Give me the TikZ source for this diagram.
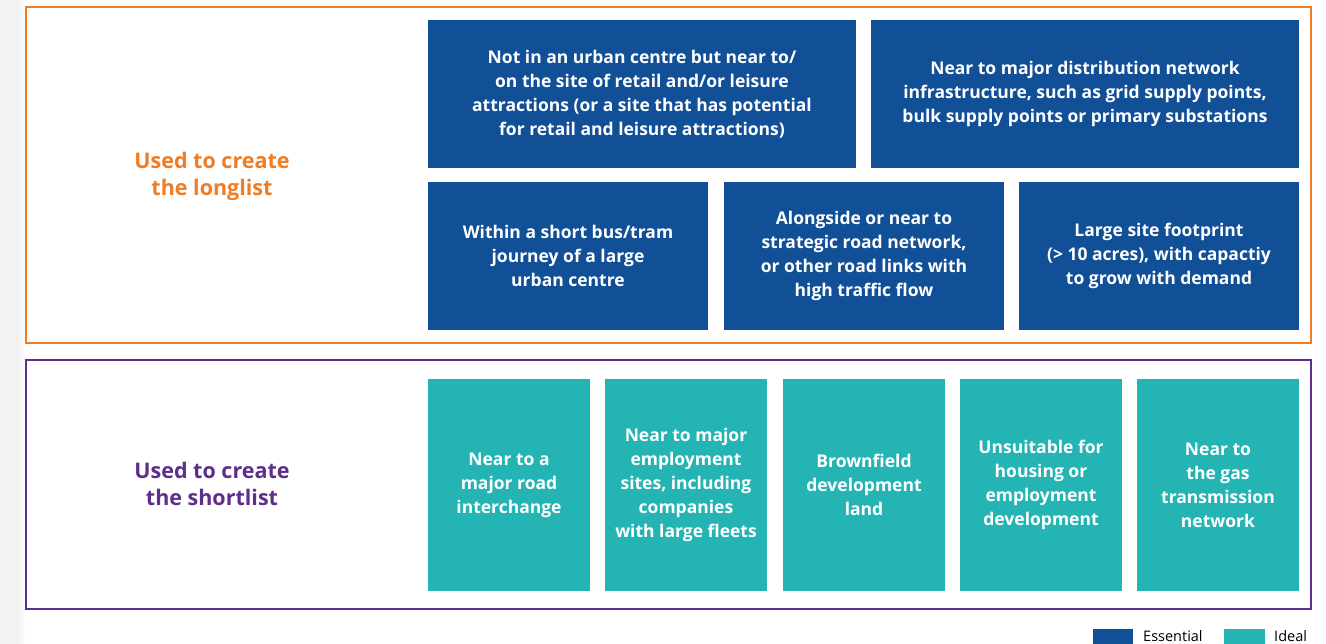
\documentclass[tikz,border=0pt]{standalone}
\usepackage{fontspec}
\setmainfont{Open Sans}
\definecolor{ess}{HTML}{114F97}
\definecolor{ide}{HTML}{25B4B4}
\definecolor{org}{HTML}{F07C23}
\definecolor{pur}{HTML}{5E2E8C}
\begin{document}
\begin{tikzpicture}[x=1pt,y=-1pt,
  boxbase/.style={rectangle, inner sep=0pt, align=center, text=white,
    font=\bfseries\fontsize{17.5}{24}\selectfont},
  essbox/.style={boxbase, fill=ess, minimum height=148pt},
  idebox/.style={boxbase, fill=ide, minimum height=212pt, minimum width=162pt},
  grouplabel/.style={align=center, font=\bfseries\fontsize{21.5}{27}\selectfont},
  frame/.style={line width=2.4pt},
  legtext/.style={anchor=west, inner sep=0pt, font=\fontsize{14.5}{16}\selectfont}]
\useasboundingbox (0,0) rectangle (1326,644);
\fill[white] (0,0) rectangle (1326,644);
\shade[left color=black!5, right color=black!5] (0,0) rectangle (18,644);
\shade[left color=black!5, right color=white] (18,0) rectangle (25,644);
% frames
\draw[frame, org] (26,7) rectangle (1311,343);
\draw[frame, pur] (26,360) rectangle (1311,609);
% labels
\node[grouplabel, text=org] (long) at (212,176) {Used to create\\the longlist};
\node[grouplabel, text=pur] (short) at (212,484) {Used to create\\the shortlist};
% essential boxes
\node[essbox, minimum width=428pt] (a) at (642,94) {Not in an urban centre but near to/\\on the site of retail and/or leisure\\attractions (or a site that has potential\\for retail and leisure attractions)};
\node[essbox, minimum width=428pt] (b) at (1085,94) {Near to major distribution network\\infrastructure, such as grid supply points,\\bulk supply points or primary substations};
\node[essbox, minimum width=280pt] (c) at (568,256) {Within a short bus/tram\\journey of a large\\urban centre};
\node[essbox, minimum width=280pt] (d) at (864,256) {Alongside or near to\\strategic road network,\\or other road links with\\high traffic flow};
\node[essbox, minimum width=280pt] (e) at (1159,256) {Large site footprint\\(> 10 acres), with capactiy\\to grow with demand};
% ideal boxes
\node[idebox] (f) at (509,485) {Near to a\\major road\\interchange};
\node[idebox] (g) at (686,485) {Near to major\\employment\\sites, including\\companies\\with large fleets};
\node[idebox] (h) at (864,485) {Brownfield\\development\\land};
\node[idebox] (i) at (1041,485) {Unsuitable for\\housing or\\employment\\development};
\node[idebox] (j) at (1218,485) {Near to\\the gas\\transmission\\network};
% legend
\fill[ess] (1093,629) rectangle (1133,644);
\node[legtext] (le) at (1143,636) {Essential};
\fill[ide] (1224,629) rectangle (1265,644);
\node[legtext] (li) at (1274,636) {Ideal};
\end{tikzpicture}
\end{document}
